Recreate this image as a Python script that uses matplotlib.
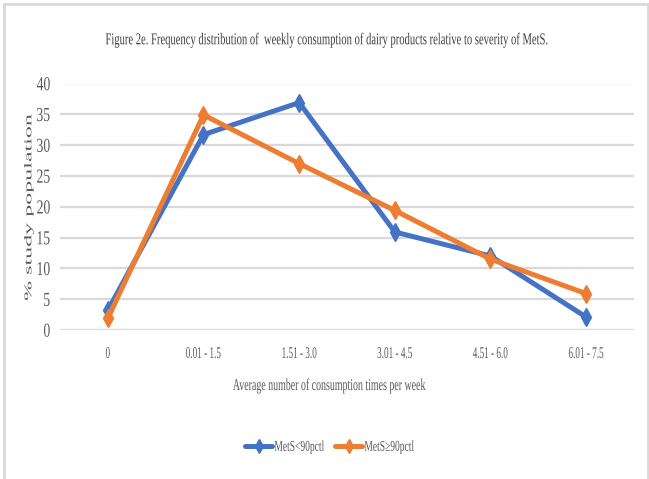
import matplotlib
matplotlib.use("Agg")
import matplotlib.pyplot as plt
from matplotlib.lines import Line2D
from matplotlib.patheffects import AbstractPathEffect
from matplotlib.transforms import Affine2D

categories = ["0", "0.01 - 1.5", "1.51 - 3.0", "3.01 - 4.5", "4.51 - 6.0", "6.01 - 7.5"]
mets_below_90 = [3.2, 31.7, 36.9, 15.9, 12.0, 2.1]
mets_above_90 = [1.9, 34.9, 27.0, 19.4, 11.5, 5.9]
series_names = ["MetS<90pctl", "MetS\u226590pctl"]
y_ticks = [0, 5, 10, 15, 20, 25, 30, 35, 40]

BLUE = "#4472C4"
ORANGE = "#ED7D31"
GRID = "#D9D9D9"
TEXT = "#595959"
SERIF = ["Liberation Serif", "DejaVu Serif"]


class Condensed(AbstractPathEffect):
    """Draw text glyphs rescaled (narrowed) around an anchor point."""

    def __init__(self, sx, anchor="center", sy=1.0):
        super().__init__()
        self.sx = sx
        self.sy = sy
        self.anchor = anchor

    def draw_path(self, renderer, gc, tpath, affine, rgbFace=None):
        bb = tpath.get_extents(affine)
        cx = {"center": 0.5 * (bb.x0 + bb.x1), "left": bb.x0, "right": bb.x1}[self.anchor]
        cy = 0.5 * (bb.y0 + bb.y1)
        squeeze = (Affine2D().translate(-cx, -cy)
                   .scale(self.sx, self.sy).translate(cx, cy))
        renderer.draw_path(gc, tpath, affine + squeeze, rgbFace)


W, H = 649, 479
fig = plt.figure(figsize=(W / 100, H / 100), dpi=100)

# outer frame (top, left and right edges)
for (x0, y0, x1, y1) in [(4, 4, 648, 4), (4, 4, 4, 479), (648, 4, 648, 479)]:
    fig.add_artist(Line2D([x0 / W, x1 / W], [1 - y0 / H, 1 - y1 / H],
                          color=GRID, lw=2.0, transform=fig.transFigure))

ax = fig.add_axes([60 / W, 1 - 330 / H, 574 / W, (330 - 83.5) / H])
x = list(range(len(categories)))

for yt in y_ticks:
    ax.axhline(yt, color=GRID, lw=1.6, zorder=0)

line_kw = dict(lw=3.6, marker="d", ms=9, solid_joinstyle="round",
               solid_capstyle="round", clip_on=False)
blue_line, = ax.plot(x, mets_below_90, color=BLUE, zorder=3, **line_kw)
orange_line, = ax.plot(x, mets_above_90, color=ORANGE, zorder=4, **line_kw)

ax.set_xlim(-0.5, len(categories) - 0.5)
ax.set_ylim(0, 40)
ax.set_yticks(y_ticks)
ax.set_xticks(x)
ax.set_xticklabels(categories)
for s in ax.spines.values():
    s.set_visible(False)
ax.tick_params(length=0, labelcolor=TEXT)
ax.tick_params(axis="x", pad=11.5, labelsize=11.8)
ax.tick_params(axis="y", pad=7, labelsize=10.5)
for lab in ax.get_xticklabels():
    lab.set_family(SERIF)
    lab.set_path_effects([Condensed(0.56, "center")])
for lab in ax.get_yticklabels():
    lab.set_family(SERIF)
    lab.set_path_effects([Condensed(0.94, "right", sy=1.36)])

ax.set_xlabel("Average number of consumption times per week", family=SERIF,
              fontsize=11.9, color=TEXT, va="center",
              path_effects=[Condensed(0.6, "center")])
ax.xaxis.set_label_coords(329 / W, 1 - 386 / H, transform=fig.transFigure)

fig.text(29 / W, 1 - 207 / H, "% study population", family=SERIF,
         fontsize=9.5, color=TEXT, rotation=90, ha="center", va="center",
         path_effects=[Condensed(0.79, "center", sy=1.82)])

fig.text(328 / W, 1 - 40 / H,
         "Figure 2e. Frequency distribution of  weekly consumption of dairy products relative to severity of MetS.",
         family=SERIF, fontsize=10.8, color="#404040", ha="center", va="center",
         path_effects=[Condensed(0.706, "center", sy=1.1)])

# one legend per series so each entry sits at its own spot
for h, name, x_start in zip([blue_line, orange_line], series_names, [245, 335]):
    leg = fig.legend([h], [name], loc="center left",
                     bbox_to_anchor=(x_start / W, 1 - 447 / H),
                     frameon=False, prop={"family": SERIF, "size": 9.8},
                     handlelength=2.0, handletextpad=0.15, borderpad=0,
                     borderaxespad=0, markerscale=0.8)
    for t in leg.get_texts():
        t.set_color(TEXT)
        t.set_path_effects([Condensed(0.7, "left", sy=1.1)])

fig.savefig("out.png", dpi=100, facecolor="white")
